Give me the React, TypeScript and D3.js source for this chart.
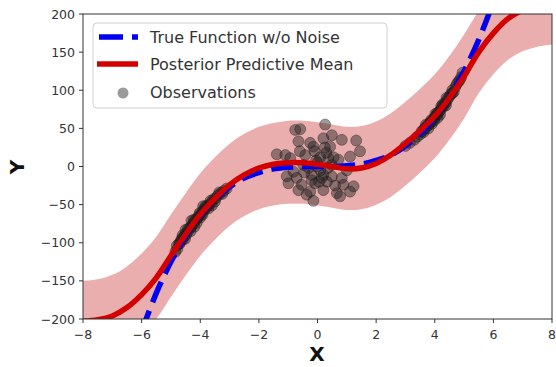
import React from "react";
import * as d3 from "d3";

// grid for the posterior curves
const gridX = [-8, -7.5, -7, -6.5, -6, -5.5, -5, -4.5, -4, -3.5, -3, -2.5, -2, -1.5, -1, -0.5, 0,
  0.5, 1, 1.5, 2, 2.5, 3, 3.5, 4, 4.5, 5, 5.5, 6, 6.5, 7, 7.5, 8];
const meanY = [-203, -201, -196, -185, -168, -146, -117, -89, -63, -42, -24, -11, -2, 3, 5, 5, 3,
  0, -3, -2, 4, 15, 30, 47, 66, 90, 118, 150, 175, 194, 205, 211, 214];
const upperY = [-150, -148, -142, -131, -114, -92, -63, -35, -9, 12, 30, 43, 52, 57, 60, 60, 58,
  55, 52, 53, 59, 70, 85, 102, 121, 145, 173, 204, 229, 248, 259, 265, 268];
const lowerY = [-256, -254, -250, -239, -222, -200, -171, -143, -117, -96, -78, -65, -56, -51, -49, -49, -51,
  -54, -57, -56, -50, -40, -25, -8, 11, 35, 63, 96, 121, 140, 151, 157, 160];

// true function
const trueX = [-6, -5.5, -5, -4.5, -4, -3.5, -3, -2.5, -2, -1.5, -1, -0.5, 0, 0.5, 1, 1.5, 2, 2.5, 3, 3.5, 4, 4.5, 5, 5.5, 6];
const trueY = [-216, -166, -125, -91, -64, -43, -27, -15, -8, -3, -1, 0, 0, 0, 1, 3, 8, 15, 27, 43, 64, 91, 125, 166, 216];

// observations
const obsX = [
  -4.85, -4.78, -4.7, -4.66, -4.6, -4.55, -4.5, -4.47, -4.4, -4.35, -4.3, -4.25, -4.2, -4.15, -4.1,
  -4.05, -4.0, -3.95, -3.9, -3.85, -3.8, -3.75, -3.7, -3.62, -3.55, -3.48, -3.4, -3.3, -3.2, -3.1,
  -4.5, -4.2, -3.9, -4.3, -3.6, -4.0, -4.6,
  -4.8, -4.72, -4.62, -4.52, -4.42, -4.33, -4.22, -4.12, -4.02, -3.92, -3.82, -3.72, -3.65, -3.5, -3.35, -3.25,
  0.26, -0.59, -0.76, 0.49, 0.2, 1.32, -0.65, -0.25, 0.83, -0.14, 0.43, 1.45, -1.39, -1.1, -0.93,
  -0.42, 0.09, 0.37, 0.71, 1.11, -0.48, -0.02, 0.49, 1.0, -0.82, -1.05, -0.71, -0.2, 0.2, 0.49,
  0.83, -0.99, -0.54, -0.08, 0.32, 0.88, 1.23, -0.65, -0.25, 0.2, 0.66, -0.37, 0.77, -0.14, 1.11,
  0.0, 0.1, -0.3, 0.3, -0.1, 0.6, -0.6, 0.15, -0.05, 0.35, -0.45, 0.55, 0.05, -0.2, 0.25,
  3.0, 3.15, 3.3, 3.4, 3.5, 3.55, 3.6, 3.65, 3.7, 3.75, 3.8, 3.85, 3.9, 3.95, 4.0, 4.05, 4.1, 4.15,
  4.2, 4.25, 4.3, 4.35, 4.4, 4.5, 4.6, 4.7, 4.8, 4.9, 4.95, 3.7, 4.1, 4.4, 3.9, 4.6,
  3.62, 3.78, 3.88, 3.98, 4.08, 4.18, 4.28, 4.38, 4.45, 4.55, 4.65, 4.75, 4.85, 4.02, 4.22,
];
const obsY = [
  -112, -108, -101, -97, -96, -92, -88, -89, -84, -80, -79, -75, -73, -70, -67,
  -66, -62, -62, -57, -57, -54, -51, -51, -47, -43, -42, -38, -35, -32, -29,
  -83, -79, -52, -71, -51, -67, -90,
  -104, -101, -94, -95, -82, -85, -70, -74, -61, -63, -52, -55, -45, -46, -34, -36,
  55, 49, 48, 41, 37, 34, 33, 31, 35, 26, 26, 20, 16, 15, 11,
  15, 12, 11, 9, 13, 2, 0, 2, -5, -7, -13, -15, -11, -11, -13,
  -15, -22, -24, -22, -20, -24, -26, -31, -33, -31, -35, -37, -39, -45, -33,
  5, -5, -2, 18, 20, -25, 20, -15, 8, -2, -8, 12, -20, -18, 25,
  27, 31, 35, 39, 42, 46, 47, 50, 51, 54, 55, 58, 59, 62, 64, 67, 69, 72,
  74, 78, 79, 83, 85, 92, 96, 104, 111, 117, 123, 55, 64, 90, 56, 100,
  45, 50, 61, 60, 70, 68, 82, 80, 89, 95, 98, 108, 113, 69, 79,
];

const xTicks = [-8, -6, -4, -2, 0, 2, 4, 6, 8];
const yTicks = [-200, -150, -100, -50, 0, 50, 100, 150, 200];

const W = 556;
const H = 367;
const m = { left: 83, right: 4, top: 14, bottom: 48 };

export default function App() {
  const x = d3.scaleLinear().domain([-8, 8]).range([m.left, W - m.right]);
  const y = d3.scaleLinear().domain([-200, 200]).range([H - m.bottom, m.top]);

  const band = d3
    .area<number>()
    .x((d, i) => x(gridX[i]))
    .y0((d, i) => y(lowerY[i]))
    .y1((d, i) => y(upperY[i]))
    .curve(d3.curveCatmullRom)(gridX);

  const meanLine = d3
    .line<number>()
    .x((d, i) => x(gridX[i]))
    .y((d, i) => y(meanY[i]))
    .curve(d3.curveCatmullRom)(gridX);

  const trueLine = d3
    .line<number>()
    .x((d, i) => x(trueX[i]))
    .y((d, i) => y(trueY[i]))
    .curve(d3.curveCatmullRom)(trueX);

  const font = "DejaVu Sans, sans-serif";
  const pw = W - m.left - m.right;
  const ph = H - m.top - m.bottom;

  return (
    <div style={{ position: "absolute", left: 0, top: 0 }}>
      <svg width={W} height={H} style={{ display: "block", background: "#fff" }}>
        <defs>
          <clipPath id="plot">
            <rect x={m.left} y={m.top} width={pw} height={ph} />
          </clipPath>
        </defs>
        <g clipPath="url(#plot)">
          <path d={band || ""} fill="rgb(234,174,174)" />
          {obsX.map((d, i) => (
            <circle key={i} cx={x(d)} cy={y(obsY[i])} r={5.5} fill="#222" fillOpacity={0.45} stroke="#111" strokeOpacity={0.35} />
          ))}
          <path d={trueLine || ""} fill="none" stroke="#0000f0" strokeWidth={5.5} strokeDasharray="22,9" />
          <path d={meanLine || ""} fill="none" stroke="#d40000" strokeWidth={5.5} />
        </g>
        <rect x={m.left} y={m.top} width={pw} height={ph} fill="none" stroke="#333" strokeWidth={1} />
        {xTicks.map((t) => (
          <g key={"x" + t}>
            <line x1={x(t)} x2={x(t)} y1={H - m.bottom} y2={H - m.bottom + 4} stroke="#333" />
            <text x={x(t)} y={H - m.bottom + 20} fontSize={12.5} fill="#333" textAnchor="middle" fontFamily={font}>
              {t < 0 ? "\u2212" + Math.abs(t) : t}
            </text>
          </g>
        ))}
        {yTicks.map((t) => (
          <g key={"y" + t}>
            <line x1={m.left - 4} x2={m.left} y1={y(t)} y2={y(t)} stroke="#333" />
            <text x={m.left - 8} y={y(t) + 4.5} fontSize={12.5} fill="#333" textAnchor="end" fontFamily={font}>
              {t < 0 ? "\u2212" + Math.abs(t) : t}
            </text>
          </g>
        ))}
        <text x={317} y={361} fontSize={20} fontWeight="bold" textAnchor="middle" fontFamily={font} fill="#111">X</text>
        <text transform="translate(24,167) rotate(-90)" fontSize={20} fontWeight="bold" textAnchor="middle" fontFamily={font} fill="#111">Y</text>

        <g>
          <rect x={93} y={23} width={294} height={85} rx={4} fill="#fff" fillOpacity={0.85} stroke="#d0d0d0" />
          <line x1={99} x2={138} y1={37} y2={37} stroke="#0000f0" strokeWidth={5.5} strokeDasharray="24,9" />
          <line x1={97} x2={138} y1={64} y2={64} stroke="#d40000" strokeWidth={5.5} />
          <circle cx={123} cy={93} r={5.5} fill="#222" fillOpacity={0.45} />
          <text x={150} y={43} fontSize={16} fill="#333" fontFamily={font}>True Function w/o Noise</text>
          <text x={150} y={70} fontSize={16} fill="#333" fontFamily={font}>Posterior Predictive Mean</text>
          <text x={150} y={98} fontSize={16} fill="#333" fontFamily={font}>Observations</text>
        </g>
      </svg>
    </div>
  );
}
